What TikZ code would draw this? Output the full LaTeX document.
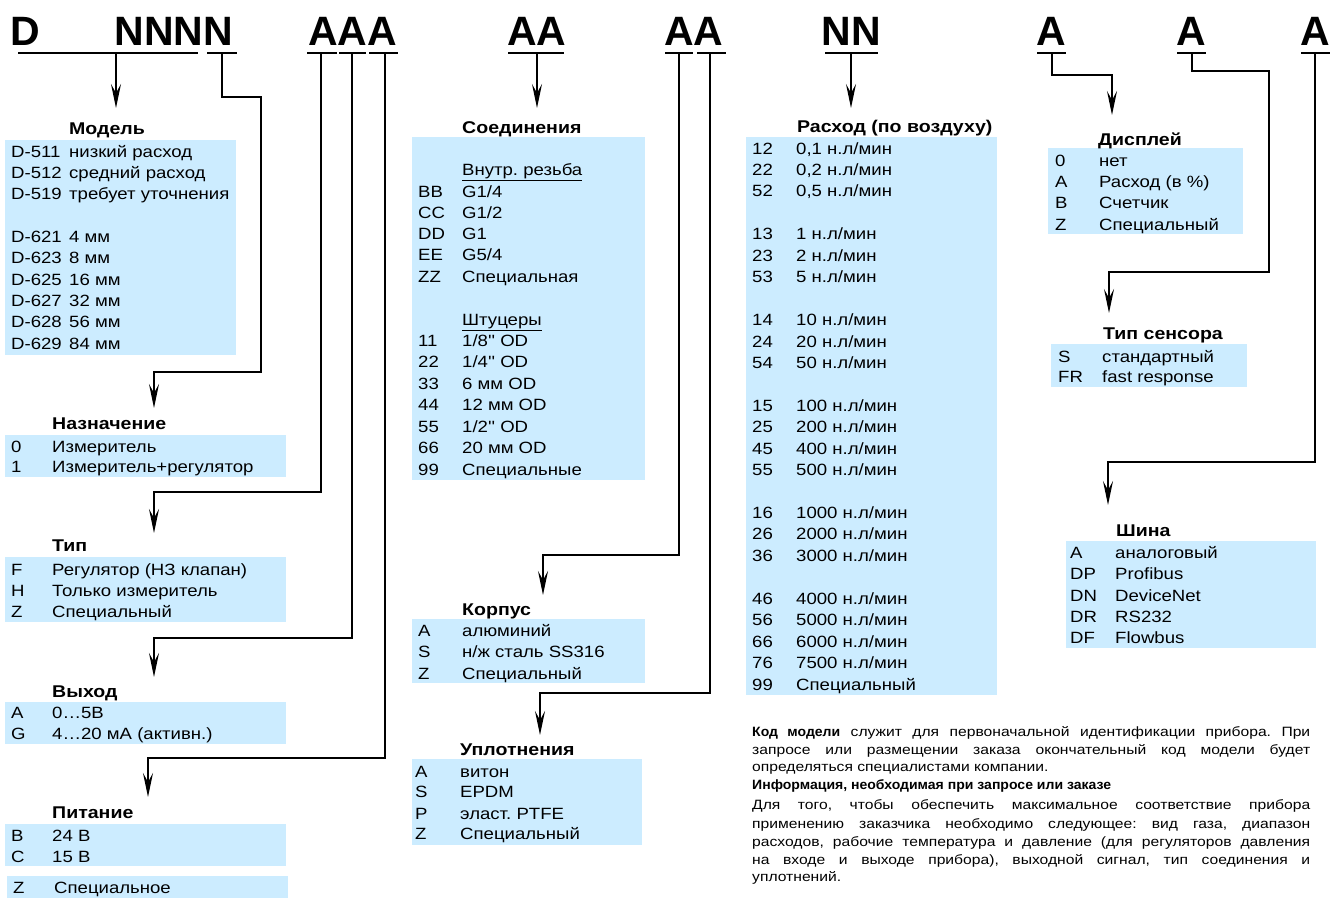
\documentclass[tikz,border=0pt]{standalone}
\usepackage{fontspec}
\setmainfont{Liberation Sans}
\newfontfamily\bodyf[FakeStretch=1.14]{Liberation Sans}
\newfontfamily\headf[FakeStretch=1.15]{Liberation Sans}
\newfontfamily\titlef{Liberation Sans}
\newfontfamily\paraf[FakeStretch=1.16]{Liberation Sans}
\newfontfamily\parabf[FakeStretch=1.04]{Liberation Sans Bold}
\usetikzlibrary{arrows.meta}
\definecolor{boxblue}{RGB}{204,236,255}
\frenchspacing
\newcount\rwc
\newcommand{\trow}[5]{%
  \global\advance\rwc by 1
  \node[cell] (c\the\rwc) at (#1,#3) {#4};
  \node[cell] (d\the\rwc) at (#2,#3) {#5};
}
\newcommand{\pb}[1]{{\parabf #1}}
\newcommand{\pjust}[3]{\node[para] (p#1) at (752,#2) {\makebox[558pt][s]{#3}};}
\newcommand{\pnat}[3]{\node[para] (p#1) at (752,#2) {#3};}
\tikzset{
  cell/.style={inner sep=0pt, anchor=base west, font=\bodyf\fontsize{16.3}{19}\selectfont},
  hd/.style={inner sep=0pt, anchor=base west, font=\headf\bfseries\fontsize{17}{20}\selectfont},
  ttl/.style={inner sep=0pt, anchor=base, font=\titlef\bfseries\fontsize{41}{46}\selectfont},
  para/.style={inner sep=0pt, anchor=base west, font=\paraf\fontsize{13.5}{16}\selectfont},
  bx/.style={fill=boxblue, draw=none},
  wire/.style={line width=1.8pt, line join=miter},
  arr/.style={wire, -{Stealth[length=24pt,width=10pt,inset=9pt]}},
  uline/.style={line width=1.8pt}
}
\begin{document}
\begin{tikzpicture}[x=1pt,y=-1pt]
\useasboundingbox (0,0) rectangle (1331,898);
\fill[white] (0,0) rectangle (1331,898);

% ---------- title ----------
\node[ttl] (tD)  at (25.5,45) {D};
\node[ttl] (tN)  at (174,45) {NNNN};
\node[ttl] (tA1) at (352.5,45) {AAA};
\node[ttl] (tA2) at (537,45) {AA};
\node[ttl] (tA3) at (694,45) {AA};
\node[ttl] (tNN) at (851,45) {NN};
\node[ttl] (tA4) at (1051,45) {A};
\node[ttl] (tA5) at (1191,45) {A};
\node[ttl] (tA6) at (1315,45) {A};

% ---------- boxes ----------
\fill[bx] (5,140) rectangle (236,355);
\fill[bx] (5,435) rectangle (286,477);
\fill[bx] (5,557) rectangle (286,622);
\fill[bx] (5,702) rectangle (286,744);
\fill[bx] (5,824) rectangle (286,866);
\fill[bx] (7,876) rectangle (288,898);
\fill[bx] (412,137) rectangle (645,480);
\fill[bx] (412,619) rectangle (645,683);
\fill[bx] (412,759) rectangle (642,845);
\fill[bx] (746,137) rectangle (997,695);
\fill[bx] (1048,148) rectangle (1243,234);
\fill[bx] (1051,344) rectangle (1247,387);
\fill[bx] (1066,541) rectangle (1316,648);

% ---------- Модель ----------
\node[hd] (hModel) at (69,134) {Модель};
\trow{11}{69}{157}{D-511}{низкий расход}
\trow{11}{69}{178.5}{D-512}{средний расход}
\trow{11}{69}{199.5}{D-519}{требует уточнения}
\trow{11}{69}{242.5}{D-621}{4 мм}
\trow{11}{69}{263.5}{D-623}{8 мм}
\trow{11}{69}{285}{D-625}{16 мм}
\trow{11}{69}{306}{D-627}{32 мм}
\trow{11}{69}{327.5}{D-628}{56 мм}
\trow{11}{69}{349}{D-629}{84 мм}

% ---------- Назначение ----------
\node[hd] (hNazn) at (52,429.5) {Назначение};
\trow{11}{52}{452.5}{0}{Измеритель}
\trow{11}{52}{472.5}{1}{Измеритель+регулятор}

% ---------- Тип ----------
\node[hd] (hTip) at (52,551.5) {Тип};
\trow{11}{52}{575}{F}{Регулятор (НЗ клапан)}
\trow{11}{52}{596}{H}{Только измеритель}
\trow{11}{52}{617}{Z}{Специальный}

% ---------- Выход ----------
\node[hd] (hOut) at (52,697) {Выход};
\trow{11}{52}{718.5}{A}{0…5В}
\trow{11}{52}{739}{G}{4…20 мА (активн.)}

% ---------- Питание ----------
\node[hd] (hPow) at (52,818) {Питание};
\trow{11}{52}{841}{B}{24 В}
\trow{11}{52}{862}{C}{15 В}
\trow{13}{54}{893.5}{Z}{Специальное}

% ---------- Соединения ----------
\node[hd] (hConn) at (462,133) {Соединения};
\trow{418}{462}{175}{}{\underline{Внутр. резьба}}
\trow{418}{462}{197}{BB}{G1/4}
\trow{418}{462}{218}{CC}{G1/2}
\trow{418}{462}{239.5}{DD}{G1}
\trow{418}{462}{260.7}{EE}{G5/4}
\trow{418}{462}{282}{ZZ}{Специальная}
\trow{418}{462}{325}{}{\underline{Штуцеры}}
\trow{418}{462}{346}{11}{1/8'' OD}
\trow{418}{462}{367.5}{22}{1/4'' OD}
\trow{418}{462}{389}{33}{6 мм OD}
\trow{418}{462}{410.5}{44}{12 мм OD}
\trow{418}{462}{432}{55}{1/2'' OD}
\trow{418}{462}{453}{66}{20 мм OD}
\trow{418}{462}{475}{99}{Специальные}

% ---------- Корпус ----------
\node[hd] (hBody) at (462,615) {Корпус};
\trow{418}{462}{636}{A}{алюминий}
\trow{418}{462}{657.5}{S}{н/ж сталь SS316}
\trow{418}{462}{679}{Z}{Специальный}

% ---------- Уплотнения ----------
\node[hd] (hSeal) at (460,755) {Уплотнения};
\trow{415}{460}{777.5}{A}{витон}
\trow{415}{460}{797.5}{S}{EPDM}
\trow{415}{460}{819}{P}{эласт. PTFE}
\trow{415}{460}{839}{Z}{Специальный}

% ---------- Расход ----------
\node[hd] (hFlow) at (797,132.5) {Расход (по воздуху)};
\trow{752}{796}{154}{12}{0,1 н.л/мин}
\trow{752}{796}{175.4}{22}{0,2 н.л/мин}
\trow{752}{796}{196.9}{52}{0,5 н.л/мин}
\trow{752}{796}{239.8}{13}{1 н.л/мин}
\trow{752}{796}{261.2}{23}{2 н.л/мин}
\trow{752}{796}{282.6}{53}{5 н.л/мин}
\trow{752}{796}{325.5}{14}{10 н.л/мин}
\trow{752}{796}{347}{24}{20 н.л/мин}
\trow{752}{796}{368.4}{54}{50 н.л/мин}
\trow{752}{796}{411.3}{15}{100 н.л/мин}
\trow{752}{796}{432.7}{25}{200 н.л/мин}
\trow{752}{796}{454.2}{45}{400 н.л/мин}
\trow{752}{796}{475.6}{55}{500 н.л/мин}
\trow{752}{796}{518.5}{16}{1000 н.л/мин}
\trow{752}{796}{539.9}{26}{2000 н.л/мин}
\trow{752}{796}{561.4}{36}{3000 н.л/мин}
\trow{752}{796}{604.2}{46}{4000 н.л/мин}
\trow{752}{796}{625.7}{56}{5000 н.л/мин}
\trow{752}{796}{647.1}{66}{6000 н.л/мин}
\trow{752}{796}{668.6}{76}{7500 н.л/мин}
\trow{752}{796}{690}{99}{Специальный}

% ---------- Дисплей ----------
\node[hd] (hDisp) at (1098,145) {Дисплей};
\trow{1055}{1099}{166}{0}{нет}
\trow{1055}{1099}{187.5}{A}{Расход (в \%)}
\trow{1055}{1099}{208.5}{B}{Счетчик}
\trow{1055}{1099}{230}{Z}{Специальный}

% ---------- Тип сенсора ----------
\node[hd] (hSens) at (1103,339.5) {Тип сенсора};
\trow{1058}{1102}{362}{S}{стандартный}
\trow{1058}{1102}{382.5}{FR}{fast response}

% ---------- Шина ----------
\node[hd] (hBus) at (1116,536) {Шина};
\trow{1070}{1115}{558}{A}{аналоговый}
\trow{1070}{1115}{579}{DP}{Profibus}
\trow{1070}{1115}{601}{DN}{DeviceNet}
\trow{1070}{1115}{622}{DR}{RS232}
\trow{1070}{1115}{643}{DF}{Flowbus}

% ---------- paragraph ----------
\pjust{1}{736}{\pb{Код модели} служит для первоначальной идентификации прибора. При}
\pjust{2}{754}{запросе или размещении заказа окончательный код модели будет}
\pnat{3}{771}{определяться специалистами компании.}
\pnat{4}{789.5}{\pb{Информация, необходимая при запросе или заказе}}
\pjust{5}{809.5}{Для того, чтобы обеспечить максимальное соответствие прибора}
\pjust{6}{828}{применению заказчика необходимо следующее: вид газа, диапазон}
\pjust{7}{846}{расходов, рабочие температура и давление (для регуляторов давления}
\pjust{8}{864}{на входе и выходе прибора), выходной сигнал, тип соединения и}
\pnat{9}{881}{уплотнений.}

% ---------- underlines ----------
\draw[uline] (18,53) -- (198,53);
\draw[uline] (207,53) -- (237,53);
\draw[uline] (307,53) -- (337,53);
\draw[uline] (339,53) -- (366,53);
\draw[uline] (369,53) -- (398,53);
\draw[uline] (508,53) -- (564,53);
\draw[uline] (665,53) -- (693,53);
\draw[uline] (697,53) -- (726,53);
\draw[uline] (825,53) -- (878,53);
\draw[uline] (1037,53) -- (1066,53);
\draw[uline] (1177,53) -- (1206,53);
\draw[uline] (1301,53) -- (1330,53);

% ---------- connector coordinates ----------
\coordinate (sModel) at (116,53);  \coordinate (eModel) at (116,108);
\coordinate (sNazn) at (222,53);   \coordinate (eNazn) at (154,408);
\coordinate (sTip) at (321,53);    \coordinate (eTip) at (154,533);
\coordinate (sOut) at (352,53);    \coordinate (eOut) at (154,677);
\coordinate (sPow) at (385,53);    \coordinate (ePow) at (148,797);
\coordinate (sConn) at (537,53);   \coordinate (eConn) at (537,108);
\coordinate (sBody) at (679,53);   \coordinate (eBody) at (543,595);
\coordinate (sSeal) at (710,53);   \coordinate (eSeal) at (540,735);
\coordinate (sFlow) at (851,53);   \coordinate (eFlow) at (851,108);
\coordinate (sDisp) at (1052,53);  \coordinate (eDisp) at (1112,115);
\coordinate (sSens) at (1192,53);  \coordinate (eSens) at (1109,313);
\coordinate (sBus) at (1315,53);   \coordinate (eBus) at (1108,505);

% ---------- connectors ----------
\draw[arr] (sModel) -- (eModel);
\draw[arr] (sNazn) -- (222,97) -- (261,97) -- (261,372) -| (eNazn);
\draw[arr] (sTip) -- (321,492) -| (eTip);
\draw[arr] (sOut) -- (352,638) -| (eOut);
\draw[arr] (sPow) -- (385,758) -| (ePow);
\draw[arr] (sConn) -- (eConn);
\draw[arr] (sBody) -- (679,555) -| (eBody);
\draw[arr] (sSeal) -- (710,693) -| (eSeal);
\draw[arr] (sFlow) -- (eFlow);
\draw[arr] (sDisp) -- (1052,75) -| (eDisp);
\draw[arr] (sSens) -- (1192,71) -- (1269,71) -- (1269,272) -| (eSens);
\draw[arr] (sBus) -- (1315,462) -| (eBus);
\end{tikzpicture}
\end{document}
